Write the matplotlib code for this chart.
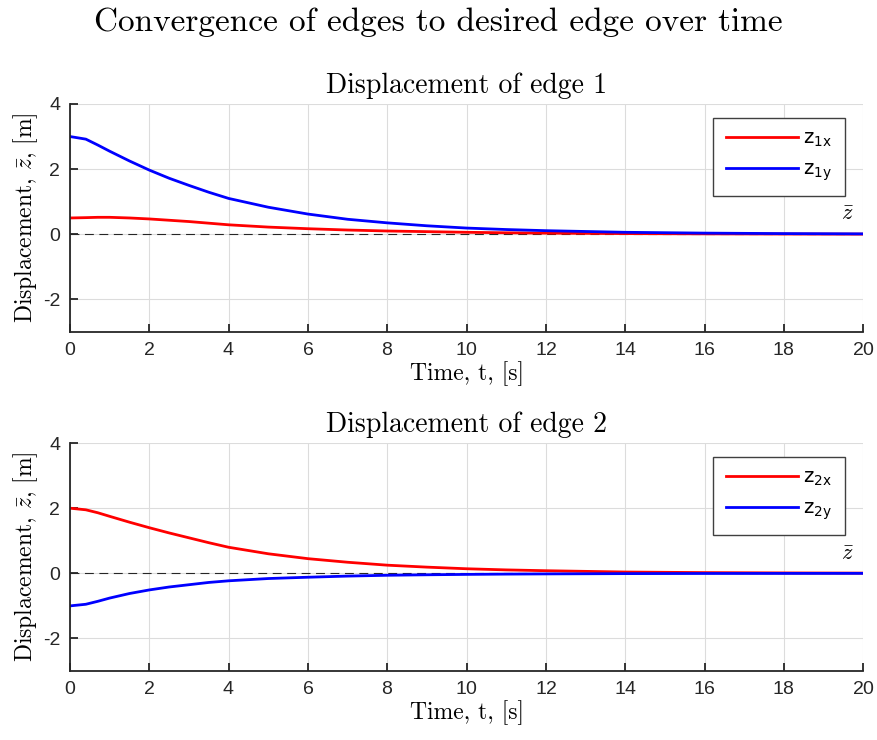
import matplotlib
matplotlib.use("Agg")
import matplotlib.pyplot as plt
from matplotlib.font_manager import FontProperties

# time samples and displacements
t = [0, 0.4, 0.7, 1, 1.5, 2, 2.5, 3, 3.5, 4, 5, 6, 7, 8, 9, 10, 11, 12, 14, 16, 18, 20]
z1x = [0.50, 0.51, 0.52, 0.52, 0.50, 0.47, 0.43, 0.39, 0.34, 0.29, 0.22, 0.17, 0.13, 0.10, 0.08, 0.06, 0.045, 0.035, 0.02, 0.012, 0.007, 0.004]
z1y = [3.00, 2.92, 2.74, 2.55, 2.25, 1.97, 1.72, 1.50, 1.29, 1.10, 0.83, 0.62, 0.46, 0.35, 0.26, 0.19, 0.145, 0.11, 0.06, 0.035, 0.02, 0.012]
z2x = [2.00, 1.95, 1.86, 1.75, 1.57, 1.40, 1.24, 1.09, 0.94, 0.80, 0.60, 0.45, 0.34, 0.25, 0.19, 0.14, 0.105, 0.08, 0.04, 0.022, 0.012, 0.006]
z2y = [-1.00, -0.95, -0.86, -0.76, -0.62, -0.51, -0.42, -0.35, -0.28, -0.23, -0.16, -0.12, -0.085, -0.06, -0.045, -0.033, -0.024, -0.018, -0.009, -0.005, -0.003, -0.001]

plt.rcParams["font.family"] = "cmr10"
plt.rcParams["mathtext.fontset"] = "cm"
plt.rcParams["axes.formatter.use_mathtext"] = True

fig = plt.figure(figsize=(8.77, 7.4), dpi=100)
fig.suptitle("Convergence of edges to desired edge over time", fontsize=24, y=0.99)

tickfont = FontProperties(family="Liberation Sans", size=14)
legfont = FontProperties(family="Liberation Sans", size=14, math_fontfamily="dejavusans")

panels = [
    ([0.0798, 0.5514, 0.9044, 0.3081], "Displacement of edge 1", z1x, z1y, "1"),
    ([0.0798, 0.0932, 0.9044, 0.3081], "Displacement of edge 2", z2x, z2y, "2"),
]

for rect, title, zx, zy, k in panels:
    ax = fig.add_axes(rect)
    ax.plot(t, zx, color="red", lw=2, label=r"$\mathrm{z}_{\mathrm{%sx}}$" % k)
    ax.plot(t, zy, color="blue", lw=2, label=r"$\mathrm{z}_{\mathrm{%sy}}$" % k)
    ax.axhline(0, color="#262626", lw=0.8, ls=(0, (8, 5)), zorder=1)
    ax.text(19.6, 0.3, r"$\bar{z}$", fontsize=16, ha="center", va="bottom")
    ax.set_xlim(0, 20)
    ax.set_ylim(-3, 4)
    ax.set_xticks(range(0, 21, 2))
    ax.set_yticks([-2, 0, 2, 4])
    ax.set_yticklabels(["-2", "0", "2", "4"])
    for lab in ax.get_xticklabels() + ax.get_yticklabels():
        lab.set_fontproperties(tickfont)
    ax.tick_params(direction="in", length=6, width=1.3, colors="#262626", pad=7)
    ax.spines["top"].set_visible(False)
    ax.spines["right"].set_visible(False)
    for s in ("left", "bottom"):
        ax.spines[s].set_color("#262626")
        ax.spines[s].set_linewidth(1.3)
    ax.grid(True, color="#dcdcdc", lw=0.8)
    ax.set_axisbelow(True)
    ax.set_title(title, fontsize=20, pad=8)
    ax.set_xlabel("Time, t, [s]", fontsize=17, labelpad=2)
    ax.set_ylabel(r"Displacement, $\bar{z}$, [m]", fontsize=17, labelpad=2)
    leg = ax.legend(loc="upper right", bbox_to_anchor=(0.977, 0.939), prop=legfont,
                    fancybox=False, framealpha=1, edgecolor="#404040",
                    handlelength=3.7, handletextpad=0.3, borderpad=0.65,
                    labelspacing=0.6, borderaxespad=0)
    leg.get_frame().set_linewidth(1.0)

fig.savefig("out.png", dpi=100)
